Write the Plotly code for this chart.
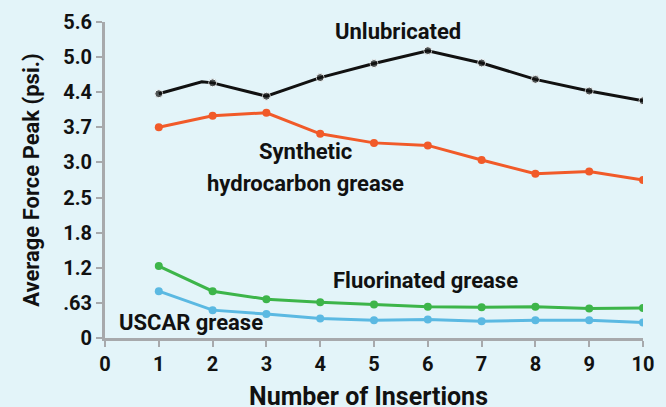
import numpy as np
import plotly.graph_objects as go

# Data
insertions = [1, 2, 3, 4, 5, 6, 7, 8, 9, 10]
unlub_x = [1, 1.8, 2, 3, 4, 5, 6, 7, 8, 9, 10]
unlubricated = [4.37, 4.58, 4.56, 4.32, 4.65, 4.89, 5.11, 4.90, 4.62, 4.42, 4.23]
unlub_marker = [True, False, True, True, True, True, True, True, True, True, True]
synthetic = [3.70, 3.93, 3.99, 3.57, 3.39, 3.34, 3.05, 2.84, 2.87, 2.75]
fluorinated = [1.23, 0.82, 0.69, 0.64, 0.60, 0.56, 0.55, 0.56, 0.53, 0.54]
uscar = [0.82, 0.50, 0.43, 0.35, 0.32, 0.33, 0.30, 0.32, 0.32, 0.28]

y_tick_values = [0, 0.63, 1.2, 1.8, 2.5, 3.0, 3.7, 4.4, 5.0, 5.6]
y_tick_labels = ["0", ".63", "1.2", "1.8", "2.5", "3.0", "3.7", "4.4", "5.0", "5.6"]
x_tick_labels = [str(i) for i in range(0, 11)]

pos = list(range(len(y_tick_values)))

def to_axis(vals):
    return np.interp(vals, y_tick_values, pos)

FONT = "Roboto, sans-serif"
BG = "#E3F4F9"

fig = go.Figure()

def add(xs, ys, color, sizes=None):
    fig.add_trace(go.Scatter(
        x=xs, y=to_axis(ys), mode="lines+markers",
        line=dict(color=color, width=3),
        marker=dict(color=color, size=sizes if sizes is not None else 8),
        showlegend=False, hoverinfo="skip"))

add(unlub_x, unlubricated, "#111111", [8 if m else 0 for m in unlub_marker])
add(insertions, synthetic, "#F15A29")
add(insertions, fluorinated, "#3DB54A")
add(insertions, uscar, "#5BB9E2")

ann_font = dict(family=FONT, size=22, color="#111111")
annotations = [
    dict(text="<b>Unlubricated</b>", x=5.45, y=8.72),
    dict(text="<b>Synthetic</b>", x=3.72, y=5.3),
    dict(text="<b>hydrocarbon grease</b>", x=3.72, y=4.4),
    dict(text="<b>Fluorinated grease</b>", x=5.95, y=1.65),
    dict(text="<b>USCAR grease</b>", x=1.6, y=0.45),
]
for a in annotations:
    fig.add_annotation(xref="x", yref="y", showarrow=False, font=ann_font, **a)

# x-axis title as annotation to position it freely in the bottom margin
fig.add_annotation(xref="paper", yref="paper", x=0.49, y=-0.186, yanchor="middle",
                   showarrow=False, text="<b>Number of Insertions</b>",
                   font=dict(family=FONT, size=25, color="#111111"))

fig.update_layout(
    width=666, height=407,
    margin=dict(l=105, r=23, t=22, b=69, autoexpand=False),
    paper_bgcolor=BG, plot_bgcolor=BG,
    font=dict(family=FONT, color="#111111"),
)
fig.update_xaxes(
    range=[0, 10], tickvals=list(range(0, 11)), ticktext=[f"<b>{t}</b>" for t in x_tick_labels],
    showgrid=False, zeroline=False, showline=True, linecolor="#A7A9AC", linewidth=3,
    ticks="outside", ticklen=6, tickwidth=2, tickcolor="#A7A9AC", automargin=False,
    tickfont=dict(family=FONT, size=20, color="#111111"),
)
fig.update_yaxes(
    range=[0, 9], tickvals=pos, ticktext=[f"<b>{t}</b>" for t in y_tick_labels],
    showgrid=False, zeroline=False, showline=True, linecolor="#A7A9AC", linewidth=3,
    ticks="outside", ticklen=6, tickwidth=2, tickcolor="#A7A9AC", automargin=False,
    tickfont=dict(family=FONT, size=20, color="#111111"),
    title=dict(text="<b>Average Force Peak (psi.)</b>", font=dict(family=FONT, size=22), standoff=18),
)

post = "document.body.style.margin='0';"
fig.write_html("out.html", post_script=post, config={"displayModeBar": False})
